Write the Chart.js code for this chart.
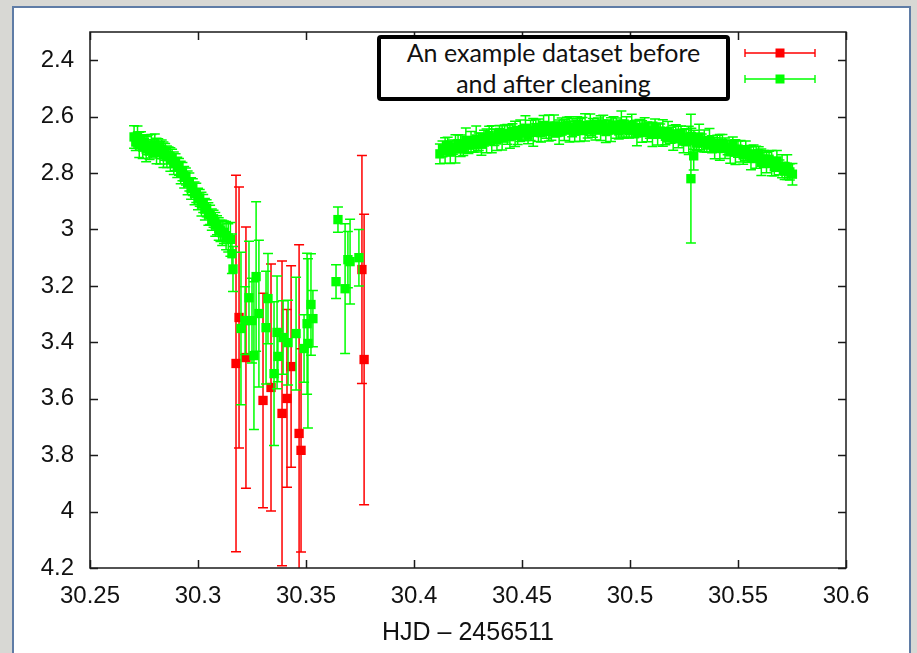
<!DOCTYPE html>
<html>
<head>
<meta charset="utf-8">
<script src="https://cdn.jsdelivr.net/npm/chart.js"></script>
<style>
  html, body { margin: 0; padding: 0; }
  body { width: 917px; height: 653px; overflow: hidden; position: relative; background: #d8d8d4; }
  #panel { position: absolute; left: 12px; top: 6px; width: 895px; height: 700px; background: #fff; border: 2px solid #5f7ca6; }
  #chart { position: absolute; left: 0; top: 0; }
  #note {
    position: absolute; left: 377px; top: 35px; width: 353px; height: 66px;
    box-sizing: border-box; border: 4px solid #000; border-radius: 4px; background: #fff;
    overflow: hidden; text-align: center; font-family: Lato, "Open Sans", sans-serif;
    font-size: 25px; line-height: 31px; color: #111;
  }
  #note span { position: relative; top: -2px; display: block; }
</style>
</head>
<body>
<div id="panel"></div>
<canvas id="chart" width="917" height="653"></canvas>
<div id="note"><span>An example dataset before<br>and after cleaning</span></div>
<script>
// Axis ticks
const xTickValues = [30.25, 30.3, 30.35, 30.4, 30.45, 30.5, 30.55, 30.6];
const xTickLabels = ['30.25', '30.3', '30.35', '30.4', '30.45', '30.5', '30.55', '30.6'];
const yTickValues = [2.4, 2.6, 2.8, 3.0, 3.2, 3.4, 3.6, 3.8, 4.0, 4.2];
const yTickLabels = ['2.4', '2.6', '2.8', '3', '3.2', '3.4', '3.6', '3.8', '4', '4.2'];
const xTitle = 'HJD \u2013 2456511';

// Rejected points (before cleaning)
const redX = [30.3176, 30.3190, 30.3222, 30.3301, 30.3338, 30.3389, 30.3412, 30.3431, 30.3468, 30.3477, 30.3759, 30.3769];
const redY = [3.475, 3.312, 3.454, 3.606, 3.560, 3.652, 3.599, 3.486, 3.723, 3.783, 3.142, 3.461];
const redErr = [0.667, 0.463, 0.463, 0.380, 0.438, 0.540, 0.315, 0.357, 0.669, 0.360, 0.404, 0.515];

// Kept points: early descent
const descentX = [30.2704, 30.2712, 30.2720, 30.2728, 30.2736, 30.2744, 30.2752, 30.2760, 30.2768, 30.2776,
  30.2784, 30.2792, 30.2800, 30.2808, 30.2816, 30.2824, 30.2832, 30.2840, 30.2848, 30.2856,
  30.2864, 30.2872, 30.2880, 30.2888, 30.2896, 30.2904, 30.2912, 30.2920, 30.2928, 30.2936,
  30.2944, 30.2952, 30.2960, 30.2968, 30.2976, 30.2984, 30.2992, 30.3000, 30.3008, 30.3016,
  30.3024, 30.3032, 30.3040, 30.3048, 30.3056, 30.3064, 30.3072, 30.3080, 30.3088, 30.3096,
  30.3104, 30.3112, 30.3120, 30.3130, 30.3140, 30.3150, 30.3157, 30.3162];
const descentY = [2.672, 2.690, 2.668, 2.700, 2.684, 2.708, 2.692, 2.715, 2.700, 2.722,
  2.705, 2.712, 2.700, 2.722, 2.708, 2.728, 2.716, 2.735, 2.725, 2.742,
  2.738, 2.752, 2.748, 2.765, 2.762, 2.780, 2.778, 2.798, 2.795, 2.815,
  2.812, 2.835, 2.832, 2.855, 2.850, 2.872, 2.870, 2.892, 2.888, 2.910,
  2.908, 2.928, 2.925, 2.945, 2.948, 2.965, 2.962, 2.982, 2.985, 2.998,
  3.005, 3.012, 3.010, 3.022, 3.030, 3.035, 3.086, 3.140];
const descentErr = [0.040, 0.030, 0.035, 0.045, 0.030, 0.040, 0.028, 0.045, 0.035, 0.030,
  0.042, 0.030, 0.038, 0.045, 0.030, 0.040, 0.033, 0.045, 0.030, 0.038,
  0.030, 0.042, 0.032, 0.040, 0.030, 0.036, 0.030, 0.040, 0.032, 0.038,
  0.030, 0.042, 0.032, 0.038, 0.030, 0.040, 0.034, 0.038, 0.030, 0.042,
  0.032, 0.038, 0.030, 0.040, 0.034, 0.038, 0.030, 0.042, 0.034, 0.040,
  0.038, 0.045, 0.040, 0.050, 0.050, 0.060, 0.070, 0.080];

// Kept points: minimum
const dipX = [30.3199, 30.3218, 30.3236, 30.3250, 30.3259, 30.3269, 30.3282, 30.3315, 30.3324, 30.3352,
  30.3366, 30.3370, 30.3394, 30.3417, 30.3454, 30.3491, 30.3509, 30.3505, 30.3523, 30.3532,
  30.3639, 30.3648, 30.3681, 30.3694, 30.3704, 30.3745];
const dipY = [3.351, 3.323, 3.242, 3.323, 3.447, 3.167, 3.298, 3.348, 3.245, 3.511,
  3.365, 3.450, 3.383, 3.401, 3.369, 3.422, 3.404, 3.334, 3.266, 3.316,
  3.185, 2.965, 3.210, 3.107, 3.114, 3.100];
const dipErr = [0.270, 0.120, 0.200, 0.150, 0.262, 0.265, 0.260, 0.200, 0.160, 0.255,
  0.200, 0.090, 0.130, 0.150, 0.200, 0.120, 0.300, 0.250, 0.180, 0.100,
  0.060, 0.045, 0.230, 0.100, 0.150, 0.100];

// Kept points: late arc
const arcX = [30.4120, 30.4132, 30.4144, 30.4156, 30.4168, 30.4180, 30.4192, 30.4204, 30.4216, 30.4228,
  30.4240, 30.4252, 30.4264, 30.4276, 30.4288, 30.4300, 30.4312, 30.4324, 30.4336, 30.4348,
  30.4360, 30.4372, 30.4384, 30.4396, 30.4408, 30.4420, 30.4432, 30.4444, 30.4456, 30.4468,
  30.4480, 30.4492, 30.4504, 30.4516, 30.4528, 30.4540, 30.4552, 30.4564, 30.4576, 30.4588,
  30.4600, 30.4612, 30.4624, 30.4636, 30.4648, 30.4660, 30.4672, 30.4684, 30.4696, 30.4708,
  30.4720, 30.4732, 30.4744, 30.4756, 30.4768, 30.4780, 30.4792, 30.4804, 30.4816, 30.4828,
  30.4840, 30.4852, 30.4864, 30.4876, 30.4888, 30.4900, 30.4912, 30.4924, 30.4936, 30.4948,
  30.4960, 30.4972, 30.4984, 30.4996, 30.5008, 30.5020, 30.5032, 30.5044, 30.5056, 30.5068,
  30.5080, 30.5092, 30.5104, 30.5116, 30.5128, 30.5140, 30.5152, 30.5164, 30.5176, 30.5188,
  30.5200, 30.5212, 30.5224, 30.5236, 30.5248, 30.5260, 30.5272, 30.5282, 30.5284, 30.5295,
  30.5296, 30.5308, 30.5320, 30.5332, 30.5344, 30.5356, 30.5368, 30.5380, 30.5392, 30.5404,
  30.5416, 30.5428, 30.5440, 30.5452, 30.5464, 30.5476, 30.5488, 30.5500, 30.5512, 30.5524,
  30.5536, 30.5548, 30.5560, 30.5572, 30.5584, 30.5596, 30.5608, 30.5620, 30.5632, 30.5644,
  30.5656, 30.5668, 30.5680, 30.5692, 30.5704, 30.5716, 30.5728, 30.5740, 30.5752];
const arcY = [2.732, 2.714, 2.720, 2.703, 2.726, 2.708, 2.714, 2.696, 2.703, 2.711,
  2.684, 2.701, 2.689, 2.700, 2.679, 2.689, 2.698, 2.676, 2.686, 2.667,
  2.680, 2.673, 2.683, 2.656, 2.675, 2.660, 2.663, 2.671, 2.652, 2.661,
  2.667, 2.650, 2.658, 2.641, 2.666, 2.649, 2.656, 2.639, 2.648, 2.657,
  2.631, 2.650, 2.640, 2.653, 2.633, 2.645, 2.655, 2.635, 2.648, 2.630,
  2.645, 2.639, 2.652, 2.626, 2.647, 2.633, 2.638, 2.647, 2.629, 2.640,
  2.648, 2.632, 2.641, 2.626, 2.653, 2.637, 2.646, 2.630, 2.641, 2.651,
  2.626, 2.645, 2.637, 2.650, 2.632, 2.645, 2.658, 2.639, 2.653, 2.637,
  2.654, 2.650, 2.663, 2.639, 2.662, 2.651, 2.658, 2.670, 2.653, 2.666,
  2.675, 2.661, 2.672, 2.659, 2.687, 2.673, 2.684, 2.820, 2.670, 2.739,
  2.682, 2.694, 2.672, 2.693, 2.686, 2.701, 2.684, 2.698, 2.712, 2.694,
  2.709, 2.695, 2.712, 2.709, 2.725, 2.702, 2.726, 2.715, 2.723, 2.736,
  2.721, 2.735, 2.745, 2.732, 2.744, 2.732, 2.762, 2.750, 2.763, 2.751,
  2.765, 2.778, 2.757, 2.780, 2.776, 2.793, 2.779, 2.796, 2.804];
const arcErr = [0.035, 0.028, 0.045, 0.030, 0.040, 0.025, 0.050, 0.032, 0.038, 0.027,
  0.044, 0.030, 0.036, 0.026, 0.046, 0.031, 0.039, 0.028, 0.042, 0.033,
  0.048, 0.029, 0.037, 0.025, 0.043, 0.030, 0.035, 0.041, 0.027, 0.045,
  0.032, 0.038, 0.026, 0.044, 0.030, 0.036, 0.049, 0.028, 0.040, 0.033,
  0.035, 0.027, 0.046, 0.031, 0.039, 0.025, 0.043, 0.030, 0.037, 0.028,
  0.045, 0.032, 0.036, 0.026, 0.041, 0.030, 0.048, 0.029, 0.038, 0.033,
  0.035, 0.027, 0.044, 0.031, 0.039, 0.025, 0.042, 0.030, 0.036, 0.028,
  0.046, 0.032, 0.037, 0.026, 0.040, 0.030, 0.045, 0.029, 0.038, 0.033,
  0.035, 0.027, 0.043, 0.031, 0.039, 0.025, 0.047, 0.030, 0.036, 0.028,
  0.044, 0.032, 0.038, 0.026, 0.041, 0.030, 0.050, 0.228, 0.029, 0.050,
  0.034, 0.027, 0.045, 0.031, 0.039, 0.025, 0.042, 0.030, 0.037, 0.028,
  0.046, 0.032, 0.036, 0.026, 0.040, 0.030, 0.044, 0.029, 0.038, 0.033,
  0.035, 0.027, 0.043, 0.031, 0.039, 0.025, 0.047, 0.030, 0.036, 0.028,
  0.045, 0.032, 0.037, 0.026, 0.041, 0.030, 0.044, 0.029, 0.038];

const greenX = descentX.concat(dipX, arcX);
const greenY = descentY.concat(dipY, arcY);
const greenErr = descentErr.concat(dipErr, arcErr);

const RED = '#ff0000';
const GREEN = '#00ff00';

const toPoints = (xs, ys) => xs.map((x, i) => ({ x: x, y: ys[i] }));

// Vertical error bars drawn just before each dataset's markers, clipped to the plot frame
const errorBars = {
  id: 'errorBars',
  beforeDatasetDraw(chart, args) {
    const ds = chart.data.datasets[args.index];
    if (!ds.errors) return;
    const { ctx, chartArea: a, scales: { x, y } } = chart;
    ctx.save();
    ctx.beginPath();
    ctx.rect(a.left, a.top, a.right - a.left, a.bottom - a.top);
    ctx.clip();
    ctx.strokeStyle = ds.barColor;
    ctx.lineWidth = 1.5;
    const cap = 5;
    ds.data.forEach((p, i) => {
      const px = x.getPixelForValue(p.x);
      const y1 = y.getPixelForValue(p.y - ds.errors[i]);
      const y2 = y.getPixelForValue(p.y + ds.errors[i]);
      ctx.beginPath();
      ctx.moveTo(px, y1); ctx.lineTo(px, y2);
      ctx.moveTo(px - cap, y1); ctx.lineTo(px + cap, y1);
      ctx.moveTo(px - cap, y2); ctx.lineTo(px + cap, y2);
      ctx.stroke();
    });
    ctx.restore();
  }
};

// Plot frame with inward ticks on all four sides, plus the key samples
const frame = {
  id: 'frame',
  afterDraw(chart) {
    const { ctx, chartArea: a, scales: { x, y } } = chart;
    ctx.save();
    ctx.strokeStyle = '#1a1a1a';
    ctx.lineWidth = 1.5;
    ctx.strokeRect(a.left, a.top, a.right - a.left, a.bottom - a.top);
    const t = 8;
    ctx.beginPath();
    xTickValues.forEach(v => {
      const px = Math.round(x.getPixelForValue(v)) + 0.5;
      ctx.moveTo(px, a.bottom); ctx.lineTo(px, a.bottom - t);
      ctx.moveTo(px, a.top); ctx.lineTo(px, a.top + t);
    });
    yTickValues.forEach(v => {
      const py = Math.round(y.getPixelForValue(v)) + 0.5;
      ctx.moveTo(a.left, py); ctx.lineTo(a.left + t, py);
      ctx.moveTo(a.right, py); ctx.lineTo(a.right - t, py);
    });
    ctx.stroke();

    // key samples
    chart.data.datasets.forEach((ds, i) => {
      const ky = 53 + 26 * i;
      const x0 = 745, x1 = 815, xm = 780;
      ctx.strokeStyle = ds.barColor;
      ctx.lineWidth = 1.4;
      ctx.beginPath();
      ctx.moveTo(x0, ky); ctx.lineTo(x1, ky);
      ctx.moveTo(x0, ky - 4); ctx.lineTo(x0, ky + 4);
      ctx.moveTo(x1, ky - 4); ctx.lineTo(x1, ky + 4);
      ctx.stroke();
      ctx.fillStyle = ds.backgroundColor;
      ctx.fillRect(xm - 4.5, ky - 4.5, 9, 9);
    });
    ctx.restore();
  }
};

const tickFont = { family: '"Liberation Sans", Arial, sans-serif', size: 24 };
const titleFont = { family: '"Liberation Sans", Arial, sans-serif', size: 25 };

new Chart(document.getElementById('chart'), {
  type: 'scatter',
  data: {
    datasets: [
      {
        label: 'before',
        data: toPoints(redX, redY),
        errors: redErr,
        barColor: RED,
        backgroundColor: RED,
        borderColor: RED,
        borderWidth: 0,
        pointStyle: 'rect',
        pointRadius: 6.6,
        order: 2
      },
      {
        label: 'after',
        data: toPoints(greenX, greenY),
        errors: greenErr,
        barColor: GREEN,
        backgroundColor: GREEN,
        borderColor: GREEN,
        borderWidth: 0,
        pointStyle: 'rect',
        pointRadius: 6.6,
        order: 1
      }
    ]
  },
  options: {
    responsive: false,
    animation: false,
    events: [],
    layout: { padding: { left: 0, top: 32, right: 71, bottom: 0 } },
    plugins: { legend: { display: false }, tooltip: { enabled: false } },
    scales: {
      x: {
        type: 'linear', min: 30.25, max: 30.6, position: 'bottom',
        grid: { display: false, drawTicks: false },
        border: { display: false },
        afterBuildTicks: s => { s.ticks = xTickValues.map(v => ({ value: v })); },
        afterFit: s => { s.height = 85; },
        ticks: {
          autoSkip: false, maxRotation: 0, padding: 14, color: '#111', font: tickFont,
          callback: (v, i) => xTickLabels[i]
        },
        title: {
          display: true, text: xTitle, color: '#111', font: titleFont,
          padding: { top: 0, bottom: 5 }
        }
      },
      y: {
        type: 'linear', min: 2.3, max: 4.2, reverse: true,
        grid: { display: false, drawTicks: false },
        border: { display: false },
        afterBuildTicks: s => { s.ticks = yTickValues.map(v => ({ value: v })); },
        afterFit: s => { s.width = 90; },
        ticks: {
          autoSkip: false, padding: 16, color: '#111', font: tickFont,
          callback: (v, i) => yTickLabels[i]
        }
      }
    }
  },
  plugins: [errorBars, frame]
});
</script>
</body>
</html>
